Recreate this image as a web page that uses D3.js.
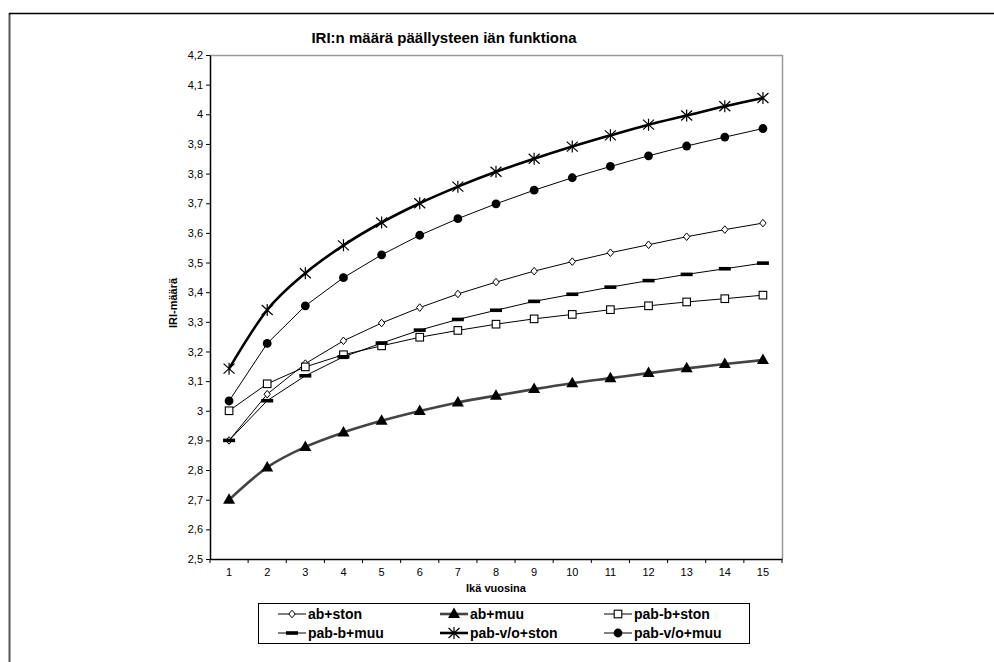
<!DOCTYPE html>
<html>
<head>
<meta charset="utf-8">
<script src="https://cdn.jsdelivr.net/npm/d3@7"></script>
<style>
  html, body { margin: 0; padding: 0; background: #fff; }
  svg { display: block; font-family: "Liberation Sans", Arial, sans-serif; }
</style>
</head>
<body>
<svg id="chart" width="994" height="662"></svg>
<script>
// Age in years
const years = [1, 2, 3, 4, 5, 6, 7, 8, 9, 10, 11, 12, 13, 14, 15];

// IRI values per pavement type / traffic class
const abSton     = [2.90, 3.056, 3.159, 3.236, 3.296, 3.348, 3.394, 3.434, 3.471, 3.503, 3.533, 3.560, 3.587, 3.611, 3.633];
const abMuu      = [2.70, 2.809, 2.878, 2.927, 2.966, 2.999, 3.028, 3.051, 3.073, 3.093, 3.110, 3.127, 3.143, 3.158, 3.171];
const pabBSton   = [3.00, 3.091, 3.148, 3.189, 3.219, 3.248, 3.271, 3.292, 3.310, 3.325, 3.341, 3.354, 3.367, 3.378, 3.390];
const pabBMuu    = [2.90, 3.034, 3.118, 3.182, 3.228, 3.272, 3.308, 3.339, 3.369, 3.393, 3.417, 3.439, 3.460, 3.479, 3.498];
const pabVoSton  = [3.142, 3.340, 3.464, 3.558, 3.635, 3.700, 3.756, 3.806, 3.850, 3.891, 3.929, 3.965, 3.996, 4.027, 4.055];
const pabVoMuu   = [3.033, 3.227, 3.354, 3.449, 3.526, 3.592, 3.648, 3.698, 3.744, 3.786, 3.824, 3.860, 3.893, 3.923, 3.952];

const seriesNames = ["ab+ston", "ab+muu", "pab-b+ston", "pab-b+muu", "pab-v/o+ston", "pab-v/o+muu"];
const yTicks = [2.5, 2.6, 2.7, 2.8, 2.9, 3.0, 3.1, 3.2, 3.3, 3.4, 3.5, 3.6, 3.7, 3.8, 3.9, 4.0, 4.1, 4.2];

const titleText = "IRI:n määrä päällysteen iän funktiona";
const xTitle = "Ikä vuosina";
const yTitle = "IRI-määrä";

const series = [
  { name: seriesNames[0], values: abSton,    marker: "diamond",  width: 1,   color: "#000", smooth: false },
  { name: seriesNames[1], values: abMuu,     marker: "triangle", width: 2.6, color: "#444", smooth: true },
  { name: seriesNames[2], values: pabBSton,  marker: "square",   width: 1,   color: "#000", smooth: false },
  { name: seriesNames[3], values: pabBMuu,   marker: "dash",     width: 1,   color: "#000", smooth: false },
  { name: seriesNames[4], values: pabVoSton, marker: "star",     width: 2.6, color: "#000", smooth: true },
  { name: seriesNames[5], values: pabVoMuu,  marker: "circle",   width: 1,   color: "#000", smooth: false }
];

const svg = d3.select("#chart");

// Chart frame
svg.append("line").attr("x1", 9.5).attr("x2", 9.5).attr("y1", 13).attr("y2", 662)
  .attr("stroke", "#555").attr("stroke-width", 2);
svg.append("line").attr("x1", 9).attr("x2", 994).attr("y1", 13.5).attr("y2", 13.5)
  .attr("stroke", "#000").attr("stroke-width", 1.5);

const plot = { left: 210, right: 782, top: 55, bottom: 559 };

const x = d3.scaleBand().domain(years).range([plot.left, plot.right]);
const y = d3.scaleLinear().domain([2.5, 4.2]).range([plot.bottom, plot.top]);
const cx = d => x(d) + x.bandwidth() / 2;

// Plot area outline (top/right in grey)
svg.append("path")
  .attr("d", `M${plot.left},${plot.top + 0.5}H${plot.right + 0.5}V${plot.bottom}`)
  .attr("fill", "none").attr("stroke", "#999").attr("stroke-width", 1.5);

// Axes
const fmt = d => (Math.round(d * 10) / 10).toString().replace(".", ",");
const yAxis = svg.append("g").attr("transform", `translate(${plot.left},0)`)
  .call(d3.axisLeft(y).tickValues(yTicks).tickFormat(fmt).tickSize(4).tickPadding(3).tickSizeOuter(0));
yAxis.select(".domain").attr("stroke", "#000").attr("stroke-width", 1.5);
yAxis.selectAll("text").attr("font-size", 11).attr("fill", "#000");

const xAxis = svg.append("g").attr("transform", `translate(0,${plot.bottom})`)
  .call(d3.axisBottom(x).tickSize(0).tickPadding(9).tickSizeOuter(0));
xAxis.select(".domain").attr("stroke", "#000").attr("stroke-width", 1.5);
xAxis.selectAll("text").attr("font-size", 11).attr("fill", "#000");
// tick marks on category boundaries
xAxis.selectAll(".bound").data(years.concat([null])).join("line")
  .attr("class", "bound")
  .attr("x1", (d, i) => plot.left + i * x.bandwidth())
  .attr("x2", (d, i) => plot.left + i * x.bandwidth())
  .attr("y1", 0).attr("y2", 4).attr("stroke", "#000");

// Titles
svg.append("text").attr("x", 444).attr("y", 43).attr("text-anchor", "middle")
  .attr("font-size", 15).attr("font-weight", "bold").text(titleText);
svg.append("text").attr("x", 496).attr("y", 592).attr("text-anchor", "middle")
  .attr("font-size", 11).attr("font-weight", "bold").text(xTitle);
svg.append("text").attr("transform", `translate(177,303) rotate(-90)`)
  .attr("text-anchor", "middle").attr("font-size", 11).attr("font-weight", "bold").text(yTitle);

// Marker drawing
function drawMarker(g, type, px, py) {
  switch (type) {
    case "diamond":
      g.append("path").attr("d", `M${px},${py - 3.8}L${px + 3.2},${py}L${px},${py + 3.8}L${px - 3.2},${py}Z`)
        .attr("fill", "#fff").attr("stroke", "#000").attr("stroke-width", 1);
      break;
    case "triangle":
      g.append("path").attr("d", `M${px},${py - 6.5}L${px + 6},${py + 4}L${px - 6},${py + 4}Z`)
        .attr("fill", "#000");
      break;
    case "square":
      g.append("rect").attr("x", px - 3.8).attr("y", py - 3.8).attr("width", 7.6).attr("height", 7.6)
        .attr("fill", "#fff").attr("stroke", "#000").attr("stroke-width", 1.1);
      break;
    case "dash":
      g.append("rect").attr("x", px - 6).attr("y", py - 1.8).attr("width", 12).attr("height", 3.6)
        .attr("fill", "#000");
      break;
    case "star":
      g.append("path")
        .attr("d", `M${px - 5.5},${py - 5}L${px + 5.5},${py + 5}M${px - 5.5},${py + 5}L${px + 5.5},${py - 5}M${px},${py - 6}L${px},${py + 6}`)
        .attr("stroke", "#000").attr("stroke-width", 1.2).attr("fill", "none");
      break;
    case "circle":
      g.append("circle").attr("cx", px).attr("cy", py).attr("r", 4.4).attr("fill", "#000");
      break;
  }
}

// Series lines and markers
series.forEach(s => {
  const line = d3.line()
    .x((d, i) => cx(years[i]))
    .y(d => y(d))
    .curve(s.smooth ? d3.curveMonotoneX : d3.curveLinear);
  svg.append("path").datum(s.values).attr("d", line)
    .attr("fill", "none").attr("stroke", s.color).attr("stroke-width", s.width)
    .attr("stroke-linejoin", "round");
  const g = svg.append("g");
  s.values.forEach((v, i) => drawMarker(g, s.marker, cx(years[i]), y(v)));
});

// Legend
const legend = svg.append("g");
legend.append("rect").attr("x", 258.5).attr("y", 603.5).attr("width", 491).attr("height", 40)
  .attr("fill", "#fff").attr("stroke", "#000").attr("stroke-width", 1);
const colX = [292, 454, 618];
const rowY = [614, 633];
series.forEach((s, i) => {
  const mx = colX[i % 3], my = rowY[Math.floor(i / 3)];
  legend.append("line").attr("x1", mx - 14).attr("x2", mx + 14).attr("y1", my).attr("y2", my)
    .attr("stroke", s.color).attr("stroke-width", s.width);
  drawMarker(legend, s.marker, mx, my);
  legend.append("text").attr("x", mx + 16).attr("y", my + 5)
    .attr("font-size", 14).attr("font-weight", "bold").text(s.name);
});
</script>
</body>
</html>
